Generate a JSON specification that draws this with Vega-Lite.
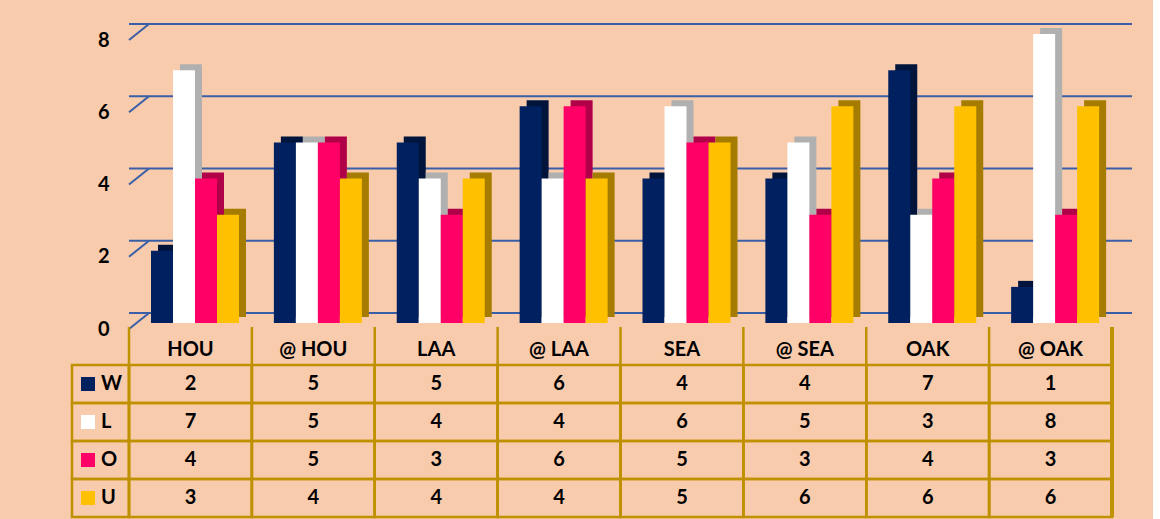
{
  "$schema": "https://vega.github.io/schema/vega-lite/v6.json",
  "background": "#F8CBAD",
  "padding": {"left": 70, "top": 23, "right": 20, "bottom": 1},
  "config": {"view": {"stroke": null}, "text": {"font": "Lato", "fontWeight": "bold", "fontSize": 20, "color": "black"}},
  "datasets": {
    "bars": [
      {"cat": "HOU", "s": "W", "v": 2}, {"cat": "HOU", "s": "L", "v": 7}, {"cat": "HOU", "s": "O", "v": 4}, {"cat": "HOU", "s": "U", "v": 3},
      {"cat": "@ HOU", "s": "W", "v": 5}, {"cat": "@ HOU", "s": "L", "v": 5}, {"cat": "@ HOU", "s": "O", "v": 5}, {"cat": "@ HOU", "s": "U", "v": 4},
      {"cat": "LAA", "s": "W", "v": 5}, {"cat": "LAA", "s": "L", "v": 4}, {"cat": "LAA", "s": "O", "v": 3}, {"cat": "LAA", "s": "U", "v": 4},
      {"cat": "@ LAA", "s": "W", "v": 6}, {"cat": "@ LAA", "s": "L", "v": 4}, {"cat": "@ LAA", "s": "O", "v": 6}, {"cat": "@ LAA", "s": "U", "v": 4},
      {"cat": "SEA", "s": "W", "v": 4}, {"cat": "SEA", "s": "L", "v": 6}, {"cat": "SEA", "s": "O", "v": 5}, {"cat": "SEA", "s": "U", "v": 5},
      {"cat": "@ SEA", "s": "W", "v": 4}, {"cat": "@ SEA", "s": "L", "v": 5}, {"cat": "@ SEA", "s": "O", "v": 3}, {"cat": "@ SEA", "s": "U", "v": 6},
      {"cat": "OAK", "s": "W", "v": 7}, {"cat": "OAK", "s": "L", "v": 3}, {"cat": "OAK", "s": "O", "v": 4}, {"cat": "OAK", "s": "U", "v": 6},
      {"cat": "@ OAK", "s": "W", "v": 1}, {"cat": "@ OAK", "s": "L", "v": 8}, {"cat": "@ OAK", "s": "O", "v": 3}, {"cat": "@ OAK", "s": "U", "v": 6}
    ],
    "grid": [{"g": 0}, {"g": 2}, {"g": 4}, {"g": 6}, {"g": 8}],
    "cats": [{"cat": "HOU"}, {"cat": "@ HOU"}, {"cat": "LAA"}, {"cat": "@ LAA"}, {"cat": "SEA"}, {"cat": "@ SEA"}, {"cat": "OAK"}, {"cat": "@ OAK"}],
    "series": [{"s": "W"}, {"s": "L"}, {"s": "O"}, {"s": "U"}]
  },
  "bounds": "flush",
  "spacing": 4,
  "vconcat": [
    {
      "width": 983,
      "height": 289,
      "layer": [
        {
          "data": {"name": "grid"},
          "mark": {"type": "rule", "color": "#3A5FA6", "strokeWidth": 2, "xOffset": 20, "x2Offset": 20, "yOffset": -10},
          "encoding": {
            "y": {"field": "g", "type": "quantitative", "scale": {"domain": [0, 8], "nice": false},
              "axis": {"values": [0, 2, 4, 6, 8], "grid": false, "domain": false, "ticks": false, "labelPadding": 20, "labelFont": "Lato", "labelFontWeight": "bold", "labelFontSize": 20, "labelColor": "black", "labelOffset": 6, "title": null}}
          }
        },
        {
          "data": {"name": "grid"},
          "mark": {"type": "rule", "color": "#3A5FA6", "strokeWidth": 2, "yOffset": 6, "y2Offset": -10, "x2Offset": 20},
          "encoding": {
            "x": {"datum": "HOU", "type": "nominal", "bandPosition": 0, "scale": {"domain": ["HOU"], "range": [0, 983], "paddingInner": 0, "paddingOuter": 0}, "axis": null},
            "x2": {"datum": "HOU", "bandPosition": 0},
            "y": {"field": "g", "type": "quantitative"},
            "y2": {"field": "g"}
          }
        },
        {
          "data": {"name": "bars"},
          "mark": {"type": "bar", "yOffset": -6, "y2Offset": -6},
          "encoding": {
            "x": {"field": "cat", "type": "nominal", "scale": {"domain": ["HOU", "@ HOU", "LAA", "@ LAA", "SEA", "@ SEA", "OAK", "@ OAK"], "range": [7, 990], "paddingInner": 0, "paddingOuter": 0}, "axis": null},
            "xOffset": {"field": "s", "type": "nominal", "scale": {"domain": ["W", "L", "O", "U"], "range": [22, 110], "paddingInner": 0, "paddingOuter": 0}},
            "y": {"field": "v", "type": "quantitative"},
            "fill": {"field": "s", "type": "nominal", "scale": {"domain": ["W", "L", "O", "U"], "range": ["#00143C", "#B0B0B0", "#B00048", "#A67C00"]}, "legend": null}
          }
        },
        {
          "data": {"name": "bars"},
          "mark": {"type": "bar"},
          "encoding": {
            "x": {"field": "cat", "type": "nominal", "scale": {"domain": ["HOU", "@ HOU", "LAA", "@ LAA", "SEA", "@ SEA", "OAK", "@ OAK"], "range": [0, 983], "paddingInner": 0, "paddingOuter": 0}, "axis": null},
            "xOffset": {"field": "s", "type": "nominal"},
            "y": {"field": "v", "type": "quantitative"},
            "color": {"field": "s", "type": "nominal", "scale": {"domain": ["W", "L", "O", "U"], "range": ["#002060", "#FFFFFF", "#FF0066", "#FFC000"]}, "legend": null}
          }
        }
      ],
      "resolve": {"scale": {"x": "independent"}}
    },
    {
      "width": 983,
      "height": 190,
      "layer": [
        {
          "data": {"name": "bars"},
          "mark": {"type": "rect", "fill": "transparent", "stroke": "#BF9000", "strokeWidth": 2.5},
          "encoding": {
            "x": {"field": "cat", "type": "nominal", "scale": {"domain": ["HOU", "@ HOU", "LAA", "@ LAA", "SEA", "@ SEA", "OAK", "@ OAK"], "paddingInner": 0, "paddingOuter": 0}, "axis": null},
            "y": {"field": "s", "type": "nominal", "scale": {"domain": ["hdr", "W", "L", "O", "U"], "paddingInner": 0, "paddingOuter": 0}, "axis": null}
          }
        },
        {
          "data": {"name": "series"},
          "mark": {"type": "rect", "fill": "transparent", "stroke": "#BF9000", "strokeWidth": 2.5, "xOffset": -57},
          "encoding": {
            "x": {"datum": "HOU", "type": "nominal", "bandPosition": 0},
            "x2": {"datum": "HOU", "bandPosition": 0},
            "y": {"field": "s", "type": "nominal"}
          }
        },
        {
          "data": {"name": "cats"},
          "mark": {"type": "rule", "stroke": "#BF9000", "strokeWidth": 2.5},
          "encoding": {
            "x": {"field": "cat", "type": "nominal", "bandPosition": 0}
          }
        },
        {
          "data": {"name": "cats"},
          "mark": {"type": "rule", "stroke": "#BF9000", "strokeWidth": 2.5},
          "encoding": {
            "x": {"datum": "@ OAK", "type": "nominal", "bandPosition": 1}
          }
        },
        {
          "data": {"name": "cats"},
          "mark": {"type": "text", "baseline": "middle", "dy": 4},
          "encoding": {
            "x": {"field": "cat", "type": "nominal"},
            "y": {"datum": "hdr", "type": "nominal"},
            "text": {"field": "cat"}
          }
        },
        {
          "data": {"name": "bars"},
          "mark": {"type": "text", "baseline": "middle"},
          "encoding": {
            "x": {"field": "cat", "type": "nominal"},
            "y": {"field": "s", "type": "nominal"},
            "text": {"field": "v", "type": "quantitative"}
          }
        },
        {
          "data": {"name": "series"},
          "mark": {"type": "square", "size": 196, "opacity": 1, "xOffset": -41},
          "encoding": {
            "x": {"datum": "HOU", "type": "nominal", "bandPosition": 0},
            "y": {"field": "s", "type": "nominal"},
            "color": {"field": "s", "type": "nominal", "legend": null}
          }
        },
        {
          "data": {"name": "series"},
          "mark": {"type": "text", "align": "left", "baseline": "middle", "xOffset": -28},
          "encoding": {
            "x": {"datum": "HOU", "type": "nominal", "bandPosition": 0},
            "y": {"field": "s", "type": "nominal"},
            "text": {"field": "s"}
          }
        }
      ]
    }
  ]
}
